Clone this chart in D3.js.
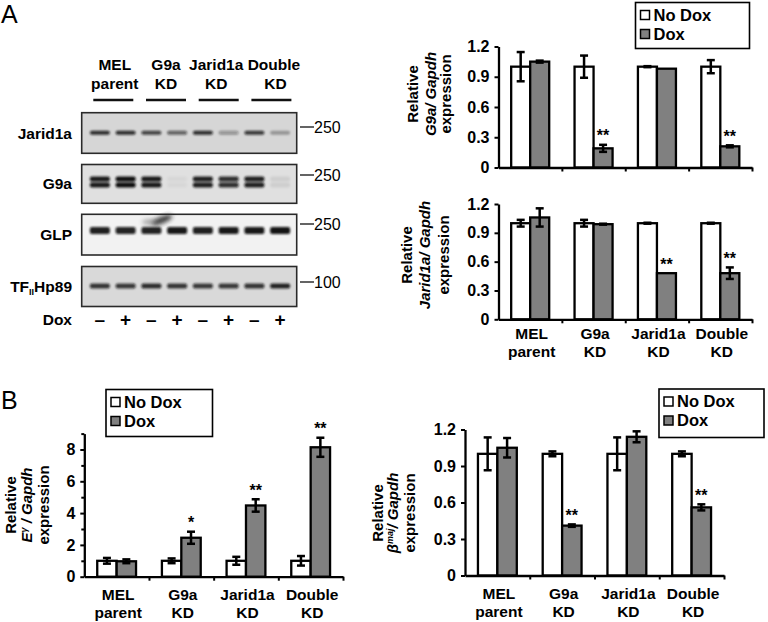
<!DOCTYPE html>
<html><head><meta charset="utf-8">
<script src="https://cdn.jsdelivr.net/npm/d3@7"></script>
<style>
body{margin:0;background:#fff}
svg{display:block;font-family:"Liberation Sans",Arial,Helvetica,sans-serif}
</style>
</head><body>
<svg id="c" width="768" height="622"></svg>
<script>
// ---------- data ----------
const categoryTop = ["MEL", "G9a", "Jarid1a", "Double"];
const categoryBottom = ["parent", "KD", "KD", "KD"];
const seriesNames = ["No Dox", "Dox"];

// Panel A, G9a / Gapdh
const g9aNoDox = [1.0, 1.0, 1.0, 1.0];
const g9aNoDoxErr = [0.145, 0.11, 0.005, 0.065];
const g9aDox = [1.05, 0.19, 0.98, 0.21];
const g9aDoxErr = [0.01, 0.035, 0.0, 0.01];
const g9aSig = ["", "**", "", "**"];

// Panel A, Jarid1a / Gapdh
const jaridNoDox = [1.0, 1.0, 1.0, 1.0];
const jaridNoDoxErr = [0.035, 0.035, 0.005, 0.005];
const jaridDox = [1.06, 0.99, 0.48, 0.48];
const jaridDoxErr = [0.095, 0.005, 0.0, 0.06];
const jaridSig = ["", "", "**", "**"];

// Panel B, Egamma / Gapdh
const egNoDox = [1.0, 1.0, 1.0, 1.0];
const egNoDoxErr = [0.18, 0.15, 0.25, 0.3];
const egDox = [0.97, 2.45, 4.48, 8.14];
const egDoxErr = [0.12, 0.38, 0.39, 0.6];
const egSig = ["", "*", "**", "**"];

// Panel B, beta-maj / Gapdh
const bmajNoDox = [1.0, 1.0, 1.0, 1.0];
const bmajNoDoxErr = [0.135, 0.02, 0.135, 0.02];
const bmajDox = [1.05, 0.41, 1.14, 0.56];
const bmajDoxErr = [0.08, 0.01, 0.045, 0.025];
const bmajSig = ["", "**", "", "**"];

const ticks012 = [0, 0.3, 0.6, 0.9, 1.2];
const ticksEg = [0, 2, 4, 6, 8];
const ticksEgMinor = [1, 3, 5, 7, 9];

// Western blot (Panel A)
const blotRows = ["Jarid1a", "G9a", "GLP", "TFIIHp89"];
const blotMarkers = ["250", "250", "250", "100"];
const doxLanes = ["−", "+", "−", "+", "−", "+", "−", "+"];
const bandJarid1a = [0.85, 0.85, 0.75, 0.6, 0.85, 0.35, 0.8, 0.3];
const bandG9a = [0.95, 1.0, 0.95, 0.04, 0.92, 0.85, 0.92, 0.08];
const bandGLP = [0.92, 0.9, 0.9, 0.95, 0.92, 0.95, 0.95, 0.97];
const bandTFIIH = [0.82, 0.8, 0.85, 0.82, 0.8, 0.8, 0.82, 0.9];

// ---------- drawing ----------
const svg = d3.select("#c");
const FONT = '"Liberation Sans", Arial, sans-serif';
const GRAY = "#808080";

const defs = svg.append("defs");
defs.append("filter").attr("id", "blur").attr("x", "-20%").attr("y", "-100%")
  .attr("width", "140%").attr("height", "300%")
  .append("feGaussianBlur").attr("stdDeviation", 0.9);
defs.append("filter").attr("id", "blur2").attr("x", "-50%").attr("y", "-50%")
  .attr("width", "200%").attr("height", "200%")
  .append("feGaussianBlur").attr("stdDeviation", 2.2);

// Panel letters
svg.append("text").attr("x", 1).attr("y", 23).attr("font-size", 25).text("A");
svg.append("text").attr("x", 1).attr("y", 409).attr("font-size", 25).text("B");

// ---- blot ----
const laneX = d3.scaleBand().domain(d3.range(8)).range([87, 293]);
const blotPanels = [
  {y0: 112.7, y1: 153.3, bg: "#d6d6d6", band: bandJarid1a, cy: 132.7, h: 4, mk: 127},
  {y0: 164.5, y1: 203.3, bg: "#e0e0e0", band: bandG9a, cy: 182, h: 11, mk: 175},
  {y0: 214.3, y1: 255, bg: "#f2f2f2", band: bandGLP, cy: 230.5, h: 7, mk: 224},
  {y0: 266.5, y1: 306.5, bg: "#d9d9d9", band: bandTFIIH, cy: 286, h: 5, mk: 282}
];
const blotG = svg.append("g");
blotPanels.forEach((p, r) => {
  blotG.append("rect").attr("x", 81.7).attr("y", p.y0).attr("width", 215).attr("height", p.y1 - p.y0)
    .attr("fill", p.bg).attr("stroke", "#2a2a2a").attr("stroke-width", 1.6);
  const bg = blotG.append("g").attr("filter", "url(#blur)");
  p.band.forEach((v, i) => {
    const cx = laneX(i) + laneX.bandwidth() / 2;
    const w = 20;
    if (r === 1) {
      bg.append("rect").attr("x", cx - w / 2).attr("y", p.cy - p.h / 2).attr("width", w).attr("height", p.h / 2 - 0.5)
        .attr("rx", 2).attr("fill", "#111").attr("opacity", v);
      bg.append("rect").attr("x", cx - w / 2).attr("y", p.cy + 0.5).attr("width", w).attr("height", p.h / 2 - 0.5)
        .attr("rx", 2).attr("fill", "#111").attr("opacity", v);
    } else {
      bg.append("rect").attr("x", cx - w / 2).attr("y", p.cy - p.h / 2).attr("width", w).attr("height", p.h)
        .attr("rx", 2).attr("fill", "#111").attr("opacity", v);
    }
  });
  if (r === 2) {
    blotG.append("ellipse").attr("cx", 162).attr("cy", 220).attr("rx", 11).attr("ry", 3.5)
      .attr("transform", "rotate(-22,162,220)").attr("fill", "#222").attr("opacity", 0.85)
      .attr("filter", "url(#blur2)");
    blotG.append("ellipse").attr("cx", 150).attr("cy", 222).attr("rx", 8).attr("ry", 3)
      .attr("fill", "#666").attr("opacity", 0.5).attr("filter", "url(#blur2)");
  }
  // row label
  const lt = blotG.append("text").attr("x", 72).attr("y", (p.y0 + p.y1) / 2 + 5.5)
    .attr("text-anchor", "end").attr("font-weight", "bold").attr("font-size", 15.5);
  if (blotRows[r] === "TFIIHp89") {
    lt.append("tspan").text("TF");
    lt.append("tspan").attr("font-size", 9).attr("dy", 3).text("II");
    lt.append("tspan").attr("dy", -3).text("Hp89");
  } else lt.text(blotRows[r]);
  // marker
  blotG.append("line").attr("x1", 300).attr("x2", 314).attr("y1", p.mk).attr("y2", p.mk)
    .attr("stroke", "#222").attr("stroke-width", 1.4);
  blotG.append("text").attr("x", 314).attr("y", p.mk + 5.5).attr("font-size", 16).text(blotMarkers[r]);
});
// group headers
const groupCenter = d3.scaleLinear().domain([0, 3]).range([113.3, 271.4]);
const headerShift = [1.5, 0, -2.5, 2.5];
categoryTop.forEach((c, i) => {
  const gc = groupCenter(i);
  const cx = gc + headerShift[i];
  blotG.append("text").attr("x", cx).attr("y", 70).attr("text-anchor", "middle")
    .attr("font-weight", "bold").attr("font-size", 15.5).text(c);
  blotG.append("text").attr("x", cx + (i === 3 ? 1.5 : 0)).attr("y", 89).attr("text-anchor", "middle")
    .attr("font-weight", "bold").attr("font-size", 15.5).text(categoryBottom[i]);
  blotG.append("line").attr("x1", gc - 20).attr("x2", gc + 20)
    .attr("y1", 100).attr("y2", 100).attr("stroke", "#111").attr("stroke-width", 2.4);
});
blotG.append("text").attr("x", 72).attr("y", 325).attr("text-anchor", "end")
  .attr("font-weight", "bold").attr("font-size", 15.5).text("Dox");
doxLanes.forEach((s, i) => {
  const cx = laneX(i) + laneX.bandwidth() / 2;
  blotG.append("text").attr("x", cx).attr("y", 326).attr("text-anchor", "middle")
    .attr("font-weight", "bold").attr("font-size", 19).text(s === "−" ? "–" : "+");
});

// ---- bar charts ----
function barChart(o) {
  const g = svg.append("g");
  const x = d3.scaleBand().domain(d3.range(4)).range([o.x0, o.x1]);
  const bw = x.bandwidth();
  const sub = d3.scaleBand().domain([0, 1]).range([0.2 * bw, 0.8 * bw]);
  const y = d3.scaleLinear().domain(o.domain).range([o.yb, o.yt]);
  const series = [
    {v: o.noDox, e: o.noDoxErr, fill: "#fff"},
    {v: o.dox, e: o.doxErr, fill: GRAY}
  ];
  series.forEach((s, si) => {
    s.v.forEach((v, i) => {
      g.append("rect").attr("x", x(i) + sub(si)).attr("y", y(v))
        .attr("width", sub.bandwidth()).attr("height", y(0) - y(v))
        .attr("fill", s.fill).attr("stroke", "#000").attr("stroke-width", 2.3);
    });
  });
  series.forEach((s, si) => {
    s.v.forEach((v, i) => {
      const e = s.e[i];
      const cx = x(i) + sub(si) + sub.bandwidth() / 2;
      if (e > 0.004) {
        g.append("line").attr("x1", cx).attr("x2", cx).attr("y1", y(v - e)).attr("y2", y(v + e))
          .attr("stroke", "#000").attr("stroke-width", 2.5);
        [v - e, v + e].forEach(t => g.append("line").attr("x1", cx - 4).attr("x2", cx + 4)
          .attr("y1", y(t)).attr("y2", y(t)).attr("stroke", "#000").attr("stroke-width", 2.5));
      }
      if (si === 1 && o.sig[i]) {
        g.append("text").attr("x", cx).attr("y", y(v + e) - 3.5).attr("text-anchor", "middle")
          .attr("font-size", 16).attr("font-weight", "bold").text(o.sig[i]);
      }
    });
  });
  // y axis
  const ya = g.append("g").attr("transform", `translate(${o.x0},0)`)
    .call(d3.axisLeft(y).tickValues(o.ticks).tickSize(4).tickSizeOuter(0).tickPadding(5)
      .tickFormat(o.fmt));
  ya.select(".domain").attr("stroke-width", 2.3);
  ya.selectAll(".tick line").attr("stroke-width", 2);
  ya.selectAll(".tick text").attr("font-family", FONT).attr("font-weight", "bold").attr("font-size", 16).attr("fill", "#000");
  if (o.minor) {
    const ym = g.append("g").attr("transform", `translate(${o.x0},0)`)
      .call(d3.axisLeft(y).tickValues(o.minor).tickSize(3).tickSizeOuter(0).tickFormat(""));
    ym.select(".domain").remove();
    ym.selectAll(".tick line").attr("stroke-width", 2);
  }
  // x axis
  const xl = d3.scaleLinear().domain([0, 4]).range([o.x0, o.x1]);
  const xa = g.append("g").attr("transform", `translate(0,${y(0)})`)
    .call(d3.axisBottom(xl).tickValues([1, 2, 3, 4]).tickSize(4).tickSizeOuter(0).tickFormat(""));
  xa.select(".domain").attr("stroke-width", 2.3);
  xa.selectAll(".tick line").attr("stroke-width", 2);
  // category labels
  if (o.catLabels) {
    categoryTop.forEach((c, i) => {
      const cx = x(i) + bw / 2 + 1.5;
      g.append("text").attr("x", cx).attr("y", o.catY).attr("text-anchor", "middle")
        .attr("font-weight", "bold").attr("font-size", 15.5).text(c);
      g.append("text").attr("x", cx).attr("y", o.catY + 18).attr("text-anchor", "middle")
        .attr("font-weight", "bold").attr("font-size", 15.5).text(categoryBottom[i]);
    });
  }
  // y label
  o.ylab.forEach((l, k) => {
    const t = g.append("text").attr("transform", `translate(${l.x},${o.labY}) rotate(-90)`)
      .attr("text-anchor", "middle").attr("font-weight", "bold").attr("font-size", 15);
    l.parts.forEach(p => {
      const ts = t.append("tspan").text(p.t);
      if (p.i) ts.attr("font-style", "italic");
      if (p.sup) ts.attr("font-size", 9).attr("dy", -5);
      if (p.down) ts.attr("dy", 5);
    });
  });
  // legend
  if (o.legend) {
    const L = o.legend;
    g.append("rect").attr("x", L.x).attr("y", L.y).attr("width", L.w).attr("height", L.h)
      .attr("fill", "#fff").attr("stroke", "#000").attr("stroke-width", 1.6);
    seriesNames.forEach((n, k) => {
      const yy = L.y + 8 + k * 19;
      g.append("rect").attr("x", L.x + 5).attr("y", yy).attr("width", 9).attr("height", 9)
        .attr("fill", k === 0 ? "#fff" : GRAY).attr("stroke", "#000").attr("stroke-width", 1.5);
      g.append("text").attr("x", L.x + 18).attr("y", yy + 10).attr("font-weight", "bold")
        .attr("font-size", 16.5).text(n);
    });
  }
}

const fmt1 = d => d === 0 ? "0" : d3.format(".1f")(d);

barChart({
  x0: 498.5, x1: 752, yb: 167.5, yt: 46.5, domain: [0, 1.2], ticks: ticks012, fmt: fmt1,
  noDox: g9aNoDox, noDoxErr: g9aNoDoxErr, dox: g9aDox, doxErr: g9aDoxErr, sig: g9aSig,
  labY: 94,
  ylab: [
    {x: 418, parts: [{t: "Relative"}]},
    {x: 435.5, parts: [{t: "G9a/ Gapdh", i: true}]},
    {x: 451, parts: [{t: "expression"}]}
  ],
  legend: {x: 635.5, y: 2.5, w: 114, h: 46}
});

barChart({
  x0: 498.5, x1: 752, yb: 319.3, yt: 204, domain: [0, 1.2], ticks: ticks012, fmt: fmt1,
  noDox: jaridNoDox, noDoxErr: jaridNoDoxErr, dox: jaridDox, doxErr: jaridDoxErr, sig: jaridSig,
  catLabels: true, catY: 339,
  labY: 255,
  ylab: [
    {x: 412, parts: [{t: "Relative"}]},
    {x: 430, parts: [{t: "Jarid1a/ Gapdh", i: true}]},
    {x: 449, parts: [{t: "expression"}]}
  ]
});

barChart({
  x0: 84.3, x1: 343, yb: 576.7, yt: 433.6, domain: [0, 9], ticks: ticksEg, minor: ticksEgMinor,
  fmt: d3.format("d"),
  noDox: egNoDox, noDoxErr: egNoDoxErr, dox: egDox, doxErr: egDoxErr, sig: egSig,
  catLabels: true, catY: 600,
  labY: 505,
  ylab: [
    {x: 16, parts: [{t: "Relative"}]},
    {x: 32, parts: [{t: "E", i: true}, {t: "γ", i: true, sup: true}, {t: " / Gapdh", i: true, down: true}]},
    {x: 49, parts: [{t: "expression"}]}
  ],
  legend: {x: 106, y: 389.5, w: 106.5, h: 47}
});

barChart({
  x0: 465, x1: 724, yb: 575.5, yt: 429.5, domain: [0, 1.2], ticks: ticks012, fmt: fmt1,
  noDox: bmajNoDox, noDoxErr: bmajNoDoxErr, dox: bmajDox, doxErr: bmajDoxErr, sig: bmajSig,
  catLabels: true, catY: 599,
  labY: 513,
  ylab: [
    {x: 383, parts: [{t: "Relative"}]},
    {x: 398, parts: [{t: "β", i: true}, {t: "maj", i: true, sup: true}, {t: "/ Gapdh", i: true, down: true}]},
    {x: 415, parts: [{t: "expression"}]}
  ],
  legend: {x: 659, y: 389, w: 105, h: 48.5}
});
</script>
</body></html>
